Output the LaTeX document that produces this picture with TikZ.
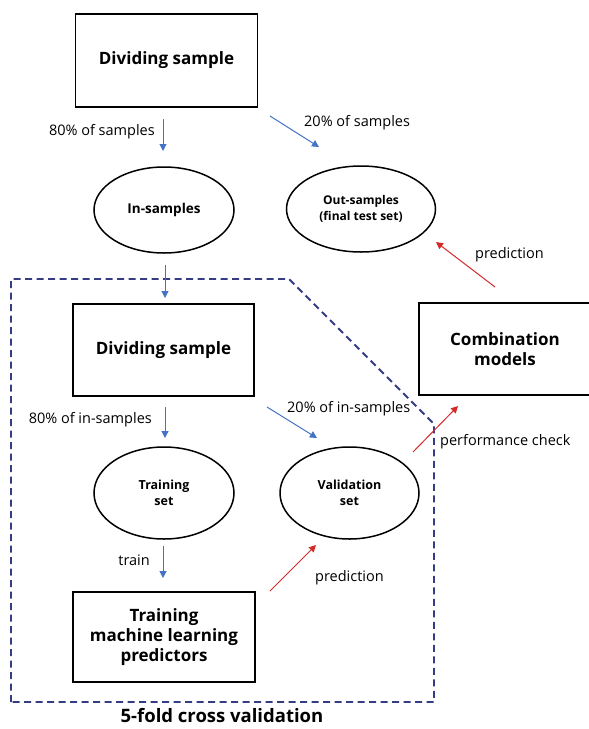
\documentclass[tikz,border=0pt]{standalone}
\usepackage{fontspec}
\setmainfont{Open Sans}
\usetikzlibrary{shapes.geometric,arrows.meta}
\definecolor{arrblue}{HTML}{4472C4}
\definecolor{arrred}{HTML}{D42A2A}
\definecolor{dashnavy}{HTML}{343C84}
\tikzset{
  boxnode/.style={draw=black, line width=1.8pt, inner sep=0pt, align=center, font=\bfseries\fontsize{17}{21}\selectfont},
  ellnode/.style={draw=black, ellipse, line width=1.5pt, inner sep=0pt, align=center},
  lbl/.style={inner sep=0pt, font=\fontsize{14.5}{16}\selectfont},
  bluearr/.style={draw=arrblue, line width=1pt, -{Triangle[length=7pt,width=7pt]}},
  redarr/.style={draw=arrred, line width=1pt, -{Triangle[length=7pt,width=7pt]}},
}
\begin{document}
\begin{tikzpicture}[x=1pt,y=-1pt]
\useasboundingbox (0,0) rectangle (589,729);
% boxes
\node[boxnode, minimum width=182pt, minimum height=93pt] (ds1) at (166.5,60.5) {Dividing sample};
\node[boxnode, minimum width=181pt, minimum height=92pt] (ds2) at (163.5,350) {Dividing sample};
\node[boxnode, minimum width=182pt, minimum height=90pt] (tm) at (164,637) {Training\\[-1pt]machine learning\\[-1pt]predictors};
\node[boxnode, minimum width=172pt, minimum height=92pt] (cm) at (505,349) {Combination\\[-1pt]models};
% ellipses
\node[ellnode, minimum width=140pt, minimum height=86pt, font=\bfseries\fontsize{13.5}{15}\selectfont] (ins) at (164,210) {In-samples};
\node[ellnode, minimum width=149pt, minimum height=86pt, font=\bfseries\fontsize{12}{15.5}\selectfont] (outs) at (361,209) {Out-samples\\(final test set)};
\node[ellnode, minimum width=140pt, minimum height=92pt, font=\bfseries\fontsize{12.5}{16}\selectfont] (trs) at (164,493) {Training\\set};
\node[ellnode, minimum width=139pt, minimum height=92pt, font=\bfseries\fontsize{12.5}{16}\selectfont] (vs) at (349.5,493) {Validation\\set};
% dashed region
\coordinate (d1) at (11,279);
\coordinate (d2) at (289,279);
\coordinate (d3) at (434,424);
\coordinate (d4) at (434,702);
\coordinate (d5) at (11,702);
\draw[dashnavy, line width=1.8pt, dash pattern=on 7pt off 4.5pt] (d5) -- (d1) -- (d2) -- (d3) -- (d4) -- cycle;
% arrow coordinates
\coordinate (a1s) at (163,119); \coordinate (a1e) at (163,151);
\coordinate (a2s) at (270,116); \coordinate (a2e) at (319,147);
\coordinate (a3s) at (165,265); \coordinate (a3e) at (165,298);
\coordinate (a4s) at (165,407); \coordinate (a4e) at (165,438);
\coordinate (a5s) at (267,407); \coordinate (a5e) at (317,438);
\coordinate (a6s) at (163,546); \coordinate (a6e) at (163,578);
\coordinate (r1s) at (495,287); \coordinate (r1e) at (436,242);
\coordinate (r2s) at (413,452); \coordinate (r2e) at (458,406);
\coordinate (r3s) at (270,591); \coordinate (r3e) at (316,545);
\draw[bluearr] (a1s) -- (a1e);
\draw[bluearr] (a2s) -- (a2e);
\draw[bluearr] (a3s) -- (a3e);
\draw[bluearr] (a4s) -- (a4e);
\draw[bluearr] (a5s) -- (a5e);
\draw[bluearr] (a6s) -- (a6e);
\draw[redarr] (r1s) -- (r1e);
\draw[redarr] (r2s) -- (r2e);
\draw[redarr] (r3s) -- (r3e);
% labels
\node[lbl, anchor=east] (l1) at (155,132) {80\% of samples};
\node[lbl, anchor=west] (l2) at (304,123) {20\% of samples};
\node[lbl, anchor=west] (l3) at (475,255) {prediction};
\node[lbl, anchor=east] (l4) at (152,420) {80\% of in-samples};
\node[lbl, anchor=west] (l5) at (287,409) {20\% of in-samples};
\node[lbl, anchor=west] (l6) at (440,442) {performance check};
\node[lbl, anchor=east] (l7) at (150,560) {train};
\node[lbl, anchor=west] (l8) at (315,578) {prediction};
\node[inner sep=0pt, font=\bfseries\fontsize{18.5}{22}\selectfont] (title) at (222,716) {5-fold cross validation};
\end{tikzpicture}
\end{document}
